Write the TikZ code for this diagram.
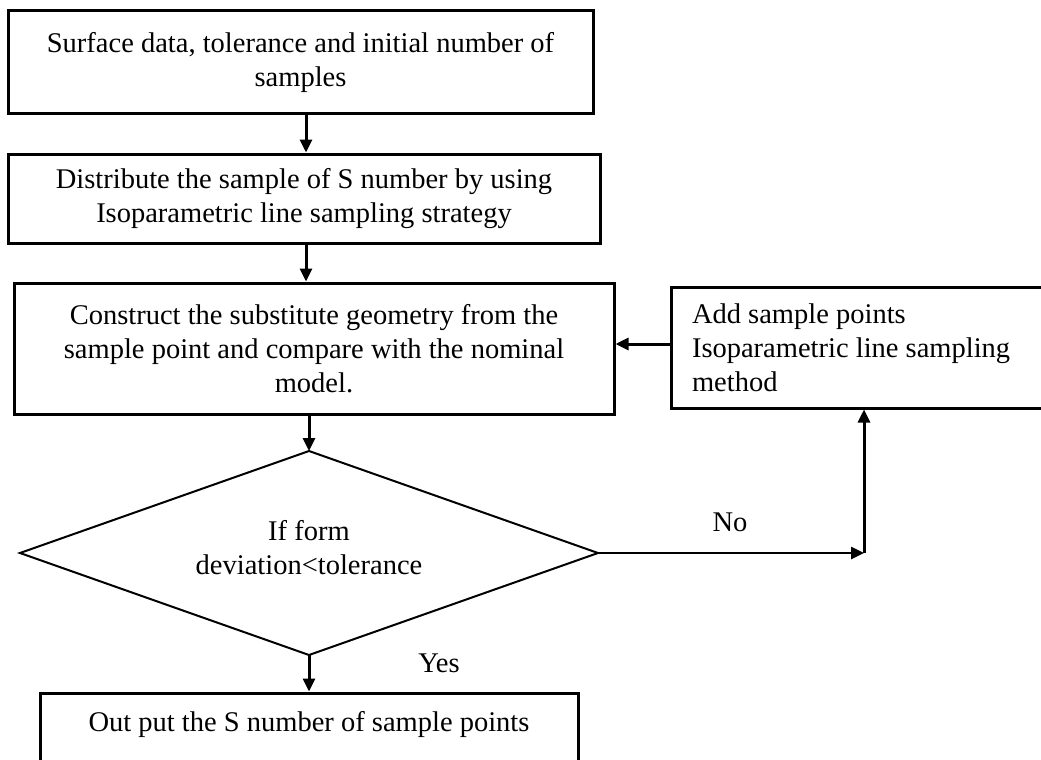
\documentclass[tikz,border=0pt]{standalone}
\usepackage{fontspec}
\setmainfont{Liberation Serif}
\usetikzlibrary{arrows.meta}
\begin{document}
\begin{tikzpicture}[x=1pt,y=-1pt,
  every node/.style={font=\fontsize{28.5pt}{34pt}\selectfont},
  box/.style={draw, line width=3pt, rectangle, align=center, inner sep=0pt},
  arr/.style={line width=3pt, -{Triangle[length=13pt,width=12pt]}},
  lbl/.style={inner sep=0pt}]
\useasboundingbox (0,0) rectangle (1041,760);
\clip (0,0) rectangle (1041,760);
\node[box, minimum width=585pt, minimum height=102pt] (b1) at (300.5,62)
  {Surface data, tolerance and initial number of\\samples};
\node[box, minimum width=592pt, minimum height=89pt] (b2) at (304,198.5)
  {Distribute the sample of S number by using\\Isoparametric line sampling strategy};
\node[box, minimum width=600pt, minimum height=131pt] (b3) at (314,348.5)
  {Construct the substitute geometry from the\\sample point and compare with the nominal\\model.};
\node[box, minimum width=389pt, minimum height=121pt, align=flush left, text width=347pt, inner xsep=21pt] (b4) at (865.5,347.5)
  {Add sample points\\Isoparametric line sampling\\method};
% decision diamond
\coordinate (dt) at (309,451);
\coordinate (dl) at (20,553);
\coordinate (dr) at (598,553);
\coordinate (db) at (309,655);
\draw[line width=2pt, line join=miter] (dt) -- (dr) -- (db) -- (dl) -- cycle;
\node[align=center, inner sep=0pt] (d) at (309,548) {If form\\deviation<tolerance};
\node[box, minimum width=538pt, minimum height=91pt] (b5) at (309,738.5)
  {Out put the S number of sample points\\\mbox{}};
\node[lbl] (no) at (730,522) {No};
\node[lbl] (yes) at (439,663) {Yes};
\coordinate (c) at (864,553);
\draw[arr] ([xshift=5.5pt]b1.south) -- ([xshift=5.5pt]b1.south |- b2.north);
\draw[arr] ([xshift=2pt]b2.south) -- ([xshift=2pt]b2.south |- b3.north);
\draw[arr] ([xshift=-5pt]b3.south) -- (dt);
\draw[arr] (db) -- (db |- b5.north);
\draw[arr] ([yshift=3.5pt]b4.west) -- ([yshift=3.5pt]b4.west -| b3.east);
\draw[arr, line width=2.5pt] (dr) -- (c);
\draw[arr] (c) -- (c |- b4.south);
\end{tikzpicture}
\end{document}
